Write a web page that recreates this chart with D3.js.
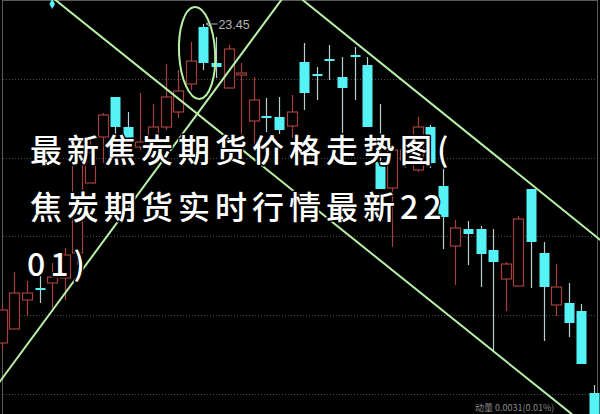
<!DOCTYPE html>
<html>
<head>
<meta charset="utf-8">
<script src="https://cdn.jsdelivr.net/npm/d3@7"></script>
<style>
  html, body { margin: 0; padding: 0; background: #000; }
  svg { display: block; }
</style>
</head>
<body>
<svg id="chart" width="600" height="414"></svg>
<script>
// ---- data (index = trading day, prices) ----
const opens  = [20.26,20.40,20.69,20.81,20.86,20.91,21.16,21.86,22.32,22.72,22.42,22.22,22.30,22.42,22.57,22.85,23.42,23.06,22.81,22.94,22.48,22.53,22.52,22.43,23.07,22.95,23.10,22.92,23.14,23.04,22.07,21.81,22.09,21.99,22.42,21.83,21.23,21.40,21.40,21.19,20.90,20.83,21.80,21.16,20.64,20.66,20.58,19.76];
const closes = [20.59,20.76,20.76,20.79,20.92,21.14,22.09,22.16,22.54,22.42,22.29,22.27,22.42,22.72,22.78,23.08,23.06,23.02,23.20,22.96,22.69,22.51,22.39,22.57,22.76,22.93,23.08,22.81,23.12,22.42,21.80,22.19,22.19,22.42,22.06,21.52,21.41,21.35,21.15,21.07,21.05,21.50,21.27,20.82,20.82,20.46,20.05,19.44];
const highs  = [20.64,20.97,20.88,20.99,21.06,21.21,22.24,22.32,22.56,22.72,22.57,22.76,22.65,23.05,22.99,23.27,23.45,23.32,23.24,23.06,22.92,22.71,22.72,22.74,23.26,23.02,23.24,23.12,23.22,23.12,22.65,22.24,22.29,22.52,22.44,22.09,21.49,21.48,21.43,21.40,21.07,21.53,21.80,21.27,21.05,20.86,20.65,19.84];
const lows   = [20.19,20.40,20.53,20.66,20.61,20.69,21.04,21.86,22.06,22.32,22.27,22.19,22.09,22.39,22.51,22.79,22.99,22.91,22.81,22.32,22.19,22.37,22.35,22.31,22.59,22.69,22.89,22.36,22.69,22.42,21.80,21.22,22.01,21.97,22.01,21.20,20.84,21.04,20.82,20.18,20.58,20.83,20.81,20.28,20.53,20.32,20.05,19.39];
const gridPrices = [22.90, 22.11, 21.33, 20.54, 19.75];
// trend lines as [index, price] pairs
const trendA = [[0, 24.12], [48, 19.27]];
const trendB = [[23, 23.78], [48, 21.24]];
const trendC = [[-1, 19.73], [23, 23.83]];
// circled peak: [centre index, centre price, half-width in days, half-height in price]
const ellipseSpec = [15.5, 23.16, 1.43, 0.46];
const peakIndex = 16;
const markerPoint = [4, 23.65];
const titleLines = ["最新焦炭期货价格走势图(", "焦炭期货实时行情最新22", "01)"];
const footText = "动量 0.0031(0.01%)";

// ---- drawing ----
const svg = d3.select("#chart");
const W = 600, H = 414;
svg.append("rect").attr("width", W).attr("height", H).attr("fill", "#000");

const x = d3.scaleLinear().domain([0, 47]).range([1.8, 594]);
const y = d3.scaleLinear().domain([19.75, 22.90]).range([394, 79]);

// frame
svg.append("rect").attr("x", 2.5).attr("y", 0.5).attr("width", 595).attr("height", 420)
  .attr("fill", "none").attr("stroke", "#5a5a5a").attr("stroke-width", 1);

// gridlines
svg.append("g").selectAll("line").data(gridPrices).join("line")
  .attr("x1", 3).attr("x2", 597)
  .attr("y1", d => Math.round(y(d)) + 0.5).attr("y2", d => Math.round(y(d)) + 0.5)
  .attr("stroke", "#4a4a4a").attr("stroke-width", 1).attr("stroke-dasharray", "1,2");

const RED = "#a5403f", CYAN = "#55f2f6", CWICK = "#b9cdd1";
const candles = d3.range(opens.length).map(i => ({i, o: opens[i], c: closes[i], h: highs[i], l: lows[i]}));
const bw = 10;
const g = svg.append("g");
// wicks
g.selectAll("line.wick").data(candles).join("line")
  .attr("class", "wick")
  .attr("x1", d => Math.round(x(d.i)) + 0.5).attr("x2", d => Math.round(x(d.i)) + 0.5)
  .attr("y1", d => y(d.h)).attr("y2", d => y(d.l))
  .attr("stroke", d => d.c >= d.o ? RED : CWICK).attr("stroke-width", 1.2);
// bodies
g.selectAll("rect.body").data(candles).join("rect")
  .attr("class", "body")
  .attr("x", d => Math.round(x(d.i)) - bw / 2 + 0.5)
  .attr("width", bw)
  .attr("y", d => y(Math.max(d.o, d.c)))
  .attr("height", d => Math.max(Math.abs(y(d.o) - y(d.c)), 2))
  .attr("fill", d => d.c >= d.o ? "#000" : CYAN)
  .attr("stroke", d => d.c >= d.o ? RED : CYAN)
  .attr("stroke-width", d => d.c >= d.o ? 1.2 : 0);

// trend lines
const GREEN = "#b8f0a8";
const lineGen = d3.line().x(d => x(d[0])).y(d => y(d[1]));
svg.append("g").selectAll("path").data([trendA, trendB, trendC]).join("path")
  .attr("d", lineGen).attr("fill", "none").attr("stroke", GREEN).attr("stroke-width", 2);

// ellipse around peak
const [ei, ep, edx, edp] = ellipseSpec;
const ecx = x(ei), ecy = y(ep);
svg.append("ellipse")
  .attr("cx", ecx).attr("cy", ecy)
  .attr("rx", x(ei + edx) - ecx).attr("ry", y(ep - edp) - ecy)
  .attr("transform", `rotate(-3,${ecx},${ecy})`)
  .attr("fill", "none").attr("stroke", GREEN).attr("stroke-width", 2);

// peak label
const px = x(peakIndex), py = y(highs[peakIndex]);
svg.append("line").attr("x1", px + 3).attr("x2", px + 14).attr("y1", py).attr("y2", py)
  .attr("stroke", "#b5b5b5").attr("stroke-width", 1);
svg.append("path").attr("d", `M${px + 3},${py} l4,-3 M${px + 3},${py} l4,3`)
  .attr("stroke", "#b5b5b5").attr("stroke-width", 1).attr("fill", "none");
svg.append("text").attr("x", px + 15).attr("y", py + 5)
  .attr("font-family", "Liberation Sans, Arial, sans-serif").attr("font-size", 12.5)
  .attr("fill", "#b5b5b5").text(d3.format(".2f")(highs[peakIndex]));

// small marker
svg.append("path").attr("d", d3.symbol(d3.symbolDiamond, 28)())
  .attr("transform", `translate(${x(markerPoint[0])},${y(markerPoint[1])})`)
  .attr("fill", CYAN);

// footer text (sits on the bottom edge)
svg.append("text").attr("x", 475).attr("y", 411)
  .attr("font-family", "Noto Sans CJK SC, sans-serif").attr("font-size", 9)
  .attr("fill", "#8a8a8a").text(footText);

// title overlay
const tg = svg.append("g")
  .attr("font-family", "Noto Sans CJK SC, sans-serif")
  .attr("font-size", 32).attr("font-weight", 500)
  .attr("letter-spacing", 5.0);
tg.selectAll("text").data(titleLines).join("text")
  .attr("x", (d, i) => i === 2 ? 27 : 30)
  .attr("y", (d, i) => 162 + i * 57)
  .attr("fill", "#fff").attr("stroke", "#000").attr("stroke-width", 3)
  .attr("paint-order", "stroke").attr("stroke-linejoin", "round")
  .text(d => d);
</script>
</body>
</html>
